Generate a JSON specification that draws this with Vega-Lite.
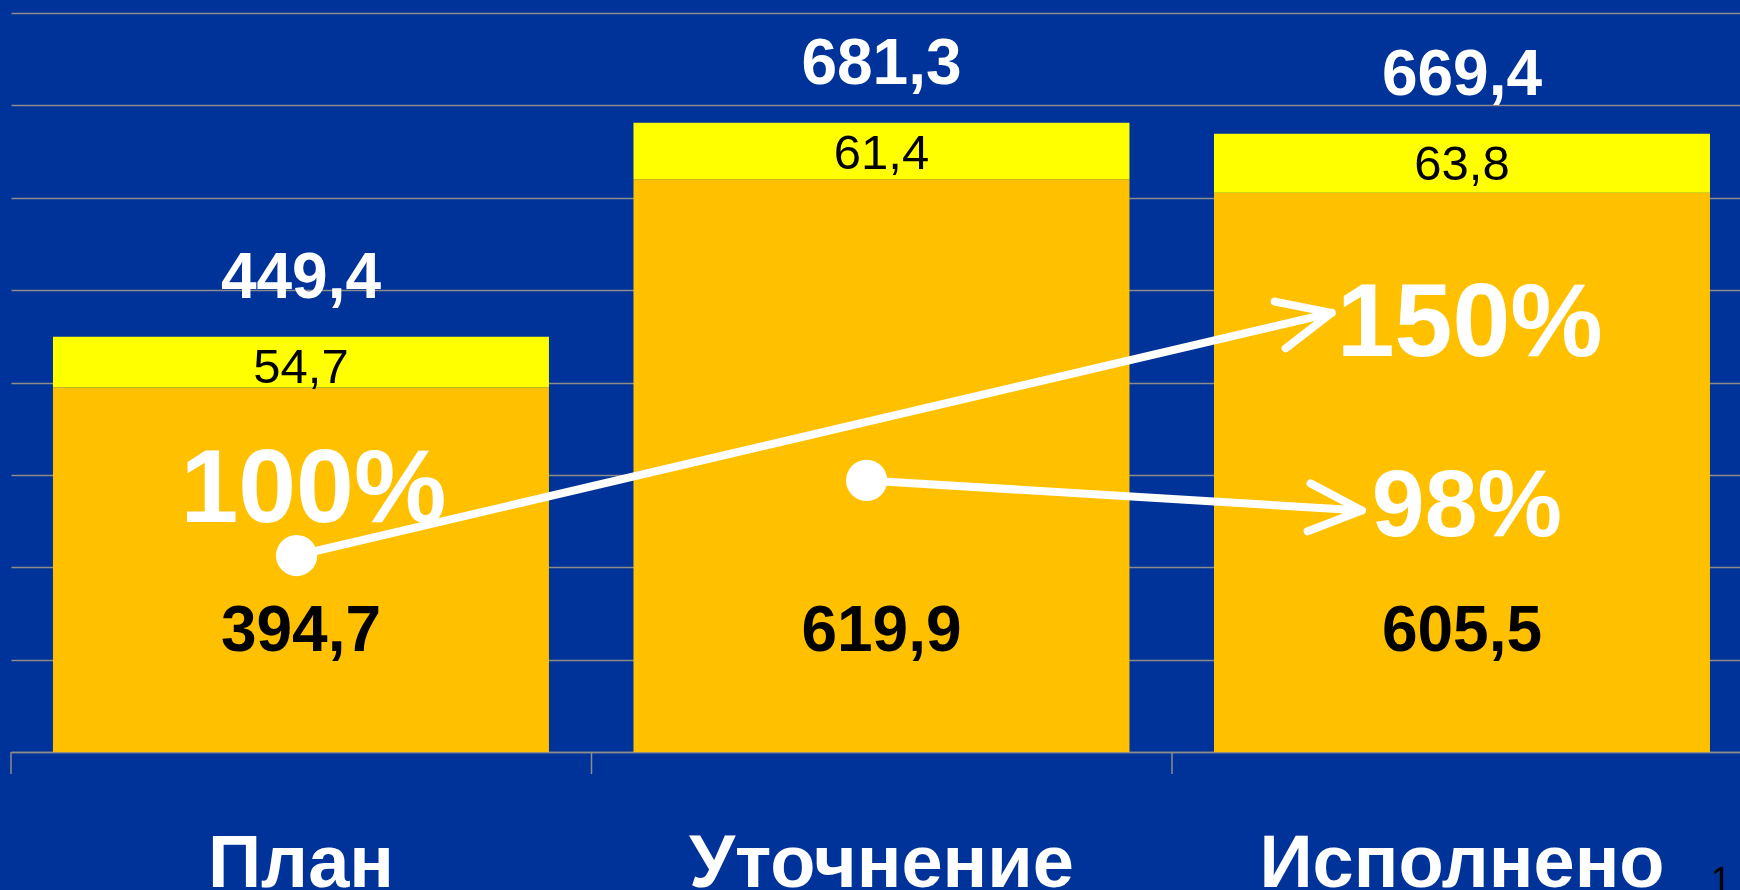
{
  "$schema": "https://vega.github.io/schema/vega-lite/v6.json",
  "width": 1729,
  "height": 739,
  "autosize": "none",
  "padding": {"left": 11, "top": 13, "right": 0, "bottom": 138},
  "background": "#003399",
  "config": {
    "view": {"stroke": null},
    "font": "Liberation Sans",
    "locale": {"number": {"decimal": ",", "thousands": " ", "grouping": [3], "currency": ["", ""]}},
    "axisY": {"labels": false, "ticks": false, "domain": false, "title": null, "grid": true, "gridColor": "#8c8c8c", "gridWidth": 1.5}
  },
  "datasets": {
    "bars": [
      {"cat": "План", "main": 394.7, "extra": 54.7, "total": 449.4},
      {"cat": "Уточнение", "main": 619.9, "extra": 61.4, "total": 681.3},
      {"cat": "Исполнено", "main": 605.5, "extra": 63.8, "total": 669.4}
    ],
    "arrows": [
      {"arrow": "a1", "point": "start", "px": 0.492, "py": 212.7},
      {"arrow": "a1", "point": "end", "px": 2.275, "py": 475.3},
      {"arrow": "a2", "point": "start", "px": 1.474, "py": 294},
      {"arrow": "a2", "point": "end", "px": 2.327, "py": 261.4}
    ],
    "pct": [
      {"label": "100%", "px": 0.521, "py": 249.5},
      {"label": "150%", "px": 2.513, "py": 428.3},
      {"label": "98%", "px": 2.508, "py": 234}
    ],
    "bounds": [{"px": 0}, {"px": 1}, {"px": 2}],
    "note": [{"label": "1", "px": 2.946, "py": -152.8}]
  },
  "layer": [
    {
      "data": {"name": "bars"},
      "encoding": {
        "x": {
          "field": "cat",
          "type": "nominal",
          "sort": ["План", "Уточнение", "Исполнено"],
          "scale": {"paddingInner": 0.1456, "paddingOuter": 0.062, "align": 0.583},
          "axis": {
            "title": null,
            "grid": false,
            "ticks": false,
            "domainColor": "#8c8c8c",
            "domainWidth": 1.5,
            "labelColor": "white",
            "labelFont": "Liberation Sans",
            "labelFontSize": 74,
            "labelFontWeight": "bold",
            "labelBaseline": "alphabetic",
            "labelPadding": 134,
            "labelAngle": 0,
            "labelLimit": 2000,
            "labelOverlap": false,
            "labelBound": false,
            "labelFlush": false
          }
        }
      },
      "layer": [
        {
          "mark": {"type": "bar", "color": "#FFC000"},
          "encoding": {
            "y": {
              "field": "main",
              "type": "quantitative",
              "scale": {"domain": [0, 800], "nice": false},
              "axis": {"values": [0, 100, 200, 300, 400, 500, 600, 700, 800]}
            }
          }
        },
        {
          "mark": {"type": "bar", "color": "#FFFF00"},
          "encoding": {
            "y": {"field": "main", "type": "quantitative", "scale": {"domain": [0, 800], "nice": false}, "axis": {"values": [0, 100, 200, 300, 400, 500, 600, 700, 800]}},
            "y2": {"field": "total"}
          }
        },
        {
          "mark": {"type": "text", "color": "white", "fontSize": 64, "fontWeight": "bold", "baseline": "alphabetic", "align": "center", "dy": -39},
          "encoding": {
            "y": {"field": "total", "type": "quantitative", "scale": {"domain": [0, 800], "nice": false}, "axis": {"values": [0, 100, 200, 300, 400, 500, 600, 700, 800]}},
            "text": {"field": "total", "type": "quantitative", "format": ".1f"}
          }
        },
        {
          "mark": {"type": "text", "color": "black", "fontSize": 49, "baseline": "alphabetic", "align": "center", "dy": 46},
          "encoding": {
            "y": {"field": "total", "type": "quantitative", "scale": {"domain": [0, 800], "nice": false}, "axis": {"values": [0, 100, 200, 300, 400, 500, 600, 700, 800]}},
            "text": {"field": "extra", "type": "quantitative", "format": ".1f"}
          }
        },
        {
          "mark": {"type": "text", "color": "black", "fontSize": 64, "fontWeight": "bold", "baseline": "alphabetic", "align": "center"},
          "encoding": {
            "y": {"datum": 109, "type": "quantitative", "scale": {"domain": [0, 800], "nice": false}, "axis": {"values": [0, 100, 200, 300, 400, 500, 600, 700, 800]}},
            "text": {"field": "main", "type": "quantitative", "format": ".1f"}
          }
        }
      ]
    },
    {
      "layer": [
        {
          "data": {"name": "bounds"},
          "mark": {"type": "rule", "color": "#8c8c8c", "strokeWidth": 1.5},
          "encoding": {
            "x": {"field": "px", "type": "quantitative", "scale": {"domain": [0, 2.9785], "nice": false, "zero": false}, "axis": null},
            "y": {"datum": 0, "type": "quantitative", "scale": {"domain": [0, 800], "nice": false}, "axis": {"values": [0, 100, 200, 300, 400, 500, 600, 700, 800]}},
            "y2": {"datum": -23.8}
          }
        },
        {
          "data": {"name": "arrows"},
          "mark": {"type": "line", "color": "white", "strokeWidth": 8, "strokeCap": "round"},
          "encoding": {
            "x": {"field": "px", "type": "quantitative", "scale": {"domain": [0, 2.9785], "nice": false, "zero": false}, "axis": null},
            "y": {"field": "py", "type": "quantitative", "scale": {"domain": [0, 800], "nice": false}, "axis": {"values": [0, 100, 200, 300, 400, 500, 600, 700, 800]}},
            "detail": {"field": "arrow", "type": "nominal"}
          }
        },
        {
          "data": {"name": "arrows"},
          "transform": [{"filter": "datum.point == 'start'"}],
          "mark": {"type": "point", "shape": "circle", "filled": true, "color": "white", "opacity": 1, "strokeWidth": 0, "size": 1700},
          "encoding": {
            "x": {"field": "px", "type": "quantitative", "scale": {"domain": [0, 2.9785], "nice": false, "zero": false}, "axis": null},
            "y": {"field": "py", "type": "quantitative", "scale": {"domain": [0, 800], "nice": false}, "axis": {"values": [0, 100, 200, 300, 400, 500, 600, 700, 800]}}
          }
        },
        {
          "data": {"name": "arrows"},
          "transform": [{"filter": "datum.arrow == 'a1' && datum.point == 'end'"}],
          "mark": {"type": "point", "shape": "M-2.2,-1L0,0L-2.2,1", "filled": false, "stroke": "white", "strokeWidth": 8, "strokeCap": "round", "strokeJoin": "round", "opacity": 1, "size": 2304, "angle": -13.2},
          "encoding": {
            "x": {"field": "px", "type": "quantitative", "scale": {"domain": [0, 2.9785], "nice": false, "zero": false}, "axis": null},
            "y": {"field": "py", "type": "quantitative", "scale": {"domain": [0, 800], "nice": false}, "axis": {"values": [0, 100, 200, 300, 400, 500, 600, 700, 800]}}
          }
        },
        {
          "data": {"name": "arrows"},
          "transform": [{"filter": "datum.arrow == 'a2' && datum.point == 'end'"}],
          "mark": {"type": "point", "shape": "M-2.2,-1L0,0L-2.2,1", "filled": false, "stroke": "white", "strokeWidth": 8, "strokeCap": "round", "strokeJoin": "round", "opacity": 1, "size": 2304, "angle": 3.5},
          "encoding": {
            "x": {"field": "px", "type": "quantitative", "scale": {"domain": [0, 2.9785], "nice": false, "zero": false}, "axis": null},
            "y": {"field": "py", "type": "quantitative", "scale": {"domain": [0, 800], "nice": false}, "axis": {"values": [0, 100, 200, 300, 400, 500, 600, 700, 800]}}
          }
        },
        {
          "data": {"name": "pct"},
          "transform": [{"filter": "datum.label != '98%'"}],
          "mark": {"type": "text", "color": "white", "fontSize": 104, "fontWeight": "bold", "baseline": "alphabetic", "align": "center"},
          "encoding": {
            "x": {"field": "px", "type": "quantitative", "scale": {"domain": [0, 2.9785], "nice": false, "zero": false}, "axis": null},
            "y": {"field": "py", "type": "quantitative", "scale": {"domain": [0, 800], "nice": false}, "axis": {"values": [0, 100, 200, 300, 400, 500, 600, 700, 800]}},
            "text": {"field": "label", "type": "nominal"}
          }
        },
        {
          "data": {"name": "pct"},
          "transform": [{"filter": "datum.label == '98%'"}],
          "mark": {"type": "text", "color": "white", "fontSize": 95, "fontWeight": "bold", "baseline": "alphabetic", "align": "center"},
          "encoding": {
            "x": {"field": "px", "type": "quantitative", "scale": {"domain": [0, 2.9785], "nice": false, "zero": false}, "axis": null},
            "y": {"field": "py", "type": "quantitative", "scale": {"domain": [0, 800], "nice": false}, "axis": {"values": [0, 100, 200, 300, 400, 500, 600, 700, 800]}},
            "text": {"field": "label", "type": "nominal"}
          }
        },
        {
          "data": {"name": "note"},
          "mark": {"type": "text", "color": "black", "fontSize": 36, "baseline": "alphabetic", "align": "center"},
          "encoding": {
            "x": {"field": "px", "type": "quantitative", "scale": {"domain": [0, 2.9785], "nice": false, "zero": false}, "axis": null},
            "y": {"field": "py", "type": "quantitative", "scale": {"domain": [0, 800], "nice": false}, "axis": {"values": [0, 100, 200, 300, 400, 500, 600, 700, 800]}},
            "text": {"field": "label", "type": "nominal"}
          }
        }
      ]
    }
  ],
  "resolve": {"scale": {"x": "independent"}, "axis": {"x": "independent"}}
}
